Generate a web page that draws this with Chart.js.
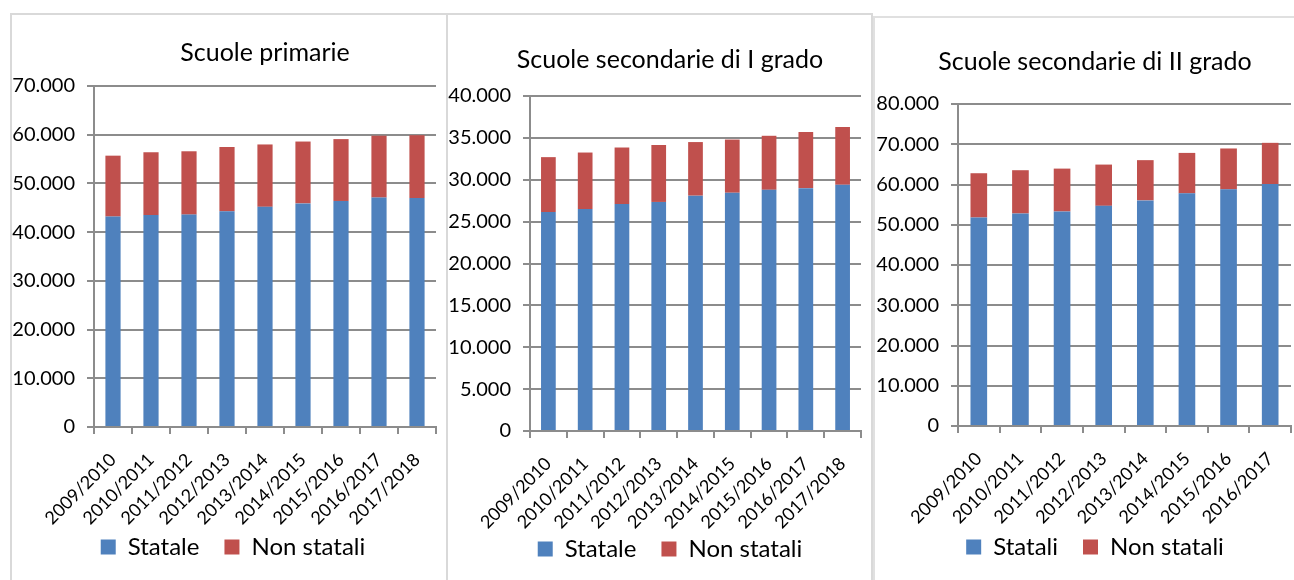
<!DOCTYPE html>
<html><head><meta charset="utf-8">
<script src="https://cdn.jsdelivr.net/npm/chart.js@4.4.1/dist/chart.umd.min.js"></script>
<style>
html,body{margin:0;padding:0;background:#fff;width:1294px;height:580px;overflow:hidden;position:relative}
.frame{position:absolute;border:2px solid #d9d9d9;box-sizing:border-box;}
canvas{position:absolute}
</style></head><body>
<div class="frame" style="left:10px;top:13px;width:438px;height:600px"></div>
<div class="frame" style="left:446px;top:13px;width:427px;height:600px"></div>
<div class="frame" style="left:873px;top:16px;width:440px;height:600px;border-color:#e0e0e0"></div>
<canvas id="c1" width="444" height="566" style="left:11px;top:14px;width:444px;height:566px"></canvas>
<canvas id="c2" width="446" height="566" style="left:447px;top:14px;width:446px;height:566px"></canvas>
<canvas id="c3" width="442" height="563" style="left:874px;top:17px;width:442px;height:563px"></canvas>
<script>
// ---- Data ----
const yearsA = ['2009/2010','2010/2011','2011/2012','2012/2013','2013/2014','2014/2015','2015/2016','2016/2017','2017/2018'];
const yearsB = ['2009/2010','2010/2011','2011/2012','2012/2013','2013/2014','2014/2015','2015/2016','2016/2017'];

const primarieStatale    = [43200, 43500, 43600, 44300, 45200, 45900, 46400, 47100, 47000];
const primarieNonStatali = [12500, 12900, 13000, 13200, 12800, 12700, 12700, 12700, 12900];

const sec1Statale    = [26150, 26500, 27100, 27350, 28100, 28450, 28800, 29000, 29400];
const sec1NonStatali = [6550, 6750, 6750, 6800, 6400, 6350, 6450, 6700, 6900];

const sec2Statali    = [51800, 52800, 53300, 54700, 56050, 57800, 58800, 60100];
const sec2NonStatali = [11000, 10750, 10650, 10250, 10000, 10050, 10150, 10250];

const titles = ['Scuole primarie', 'Scuole secondarie di I grado', 'Scuole secondarie di II grado'];
const seriesNames = [['Statale','Non statali'], ['Statale','Non statali'], ['Statali','Non statali']];
const yMax = [70000, 40000, 80000];
const yStep = [10000, 5000, 10000];

const BLUE = '#4F81BD', RED = '#C0504D', GRID = '#8c8c8c';
const FONT = 'Lato';

function fmt(v){ return String(v).replace(/\B(?=(\d{3})+(?!\d))/g, '.'); }

function makeChart(id, labels, s1, s2, names, title, max, step, L) {
  new Chart(document.getElementById(id), {
    type: 'bar',
    data: {
      labels: labels,
      datasets: [
        {label: names[0], data: s1, backgroundColor: BLUE, barPercentage: 0.4, categoryPercentage: 1},
        {label: names[1], data: s2, backgroundColor: RED, barPercentage: 0.4, categoryPercentage: 1}
      ]
    },
    options: {
      responsive: false, animation: false,
      layout: {padding: {left: 0, right: 0, top: 0, bottom: L.bottom}},
      plugins: {
        tooltip: {enabled: false},
        title: {display: true, text: title, color: '#000', fullSize: L.titleFull,
                font: {family: FONT, size: 25, weight: 'normal'}, padding: {top: L.tTop, bottom: L.tBot}},
        legend: {position: 'bottom', labels: {color: '#000', boxWidth: 15, boxHeight: 15, padding: 25,
                 font: {family: FONT, size: 24}}}
      },
      scales: {
        x: {
          stacked: true,
          grid: {display: true, drawOnChartArea: false, drawTicks: true, tickLength: 7, color: GRID, lineWidth: 2, offset: true},
          border: {display: true, color: GRID, width: 2},
          ticks: {color: '#000', font: {family: FONT, size: 18}, minRotation: 45, maxRotation: 45, autoSkip: false, padding: 15},
          afterFit: function(s){ s.height = L.xH; s._computeLabelArea = function(){ return undefined; }; }
        },
        y: {
          stacked: true, min: 0, max: max,
          grid: {color: GRID, lineWidth: 2, tickLength: 7, drawTicks: true},
          border: {display: true, color: GRID, width: 2},
          ticks: {stepSize: step, color: '#000', font: {family: FONT, size: 20}, padding: 12, callback: function(v){ return fmt(v); }},
          afterFit: function(s){ s.width = L.yW; }
        },
        spacer: {
          type: 'linear', axis: 'y', position: 'right', display: true,
          grid: {display: false}, border: {display: false}, ticks: {display: false},
          afterFit: function(s){ s.width = L.spacer; }
        }
      }
    }
  });
}

makeChart('c1', yearsA, primarieStatale, primarieNonStatali, seriesNames[0], titles[0], yMax[0], yStep[0],
  {bottom: 11, tTop: 24, tBot: 18, xH: 83, yW: 83, spacer: 19, titleFull: false});
makeChart('c2', yearsA, sec1Statale, sec1NonStatali, seriesNames[1], titles[1], yMax[1], yStep[1],
  {bottom: 9, tTop: 31, tBot: 21, xH: 81, yW: 83, spacer: 32, titleFull: true});
makeChart('c3', yearsB, sec2Statali, sec2NonStatali, seriesNames[2], titles[2], yMax[2], yStep[2],
  {bottom: 11, tTop: 30, tBot: 27, xH: 84, yW: 84, spacer: 25, titleFull: true});
</script>
</body></html>
